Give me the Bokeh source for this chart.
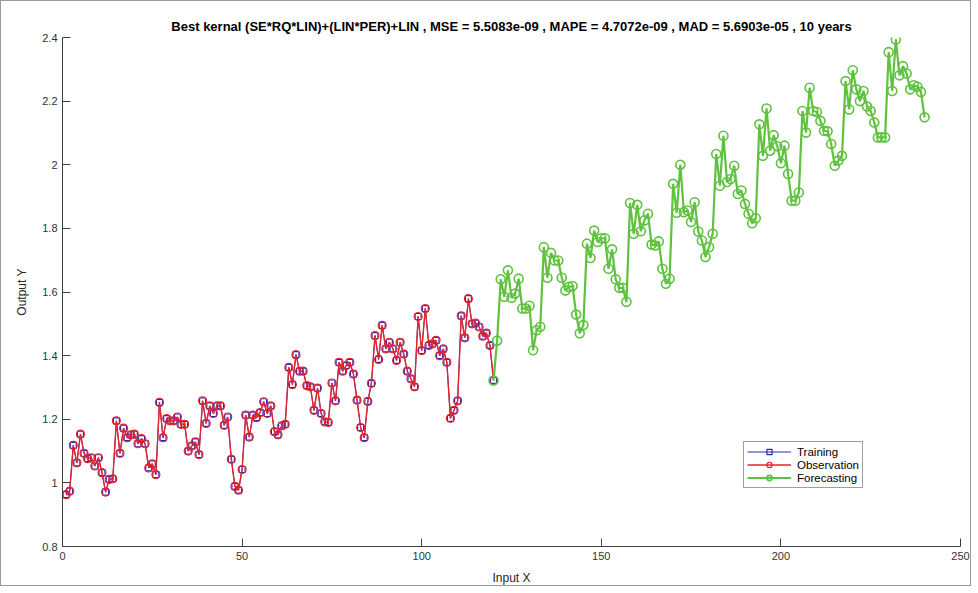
from bokeh.plotting import figure
from bokeh.models import Label, Legend, LegendItem, CustomJSTickFormatter, FixedTicker, Range1d
from bokeh.embed import file_html
from bokeh.resources import INLINE

# ---- data (values in raw units; axis shows them x 10^4) ----
obs_x = list(range(1, 121))
obs_y = [9630, 9740, 11180, 10630, 11530, 10930, 10760, 10790, 10530, 10790,
         10320, 9710, 10110, 10130, 11950, 10930, 11720, 11420, 11510, 11530,
         11230, 11390, 11230, 10470, 10600, 10260, 12530, 11420, 12020, 11950,
         11950, 12070, 11840, 11840, 11000, 11160, 11290, 10890, 12580, 11870,
         12420, 12180, 12420, 12420, 11810, 12070, 10740, 9890, 9770, 10420,
         12130, 11440, 12130, 12050, 12210, 12550, 12180, 12420, 11610, 11510,
         11790, 11840, 13630, 13090, 14030, 13510, 13510, 13060, 13020, 12280,
         12980, 12180, 11920, 11900, 13140, 12580, 13790, 13510, 13690, 13790,
         13420, 12600, 11740, 11420, 12560, 13130, 14630, 13880, 14950, 14210,
         14420, 14210, 13850, 14420, 14050, 13510, 13270, 13020, 15230, 14160,
         15480, 14320, 14370, 14480, 14000, 14210, 13790, 12030, 12280, 12580,
         15250, 14560, 15790, 15000, 15020, 14900, 14610, 14710, 14320, 13220]
train_x = obs_x
train_y = obs_y

fc_x = list(range(120, 241))
fc_y = [13220, 14470, 16400, 15850, 16680, 15820, 15950, 16420, 15480, 15480,
        15570, 14170, 14800, 14910, 17410, 16450, 17230, 16990, 16990, 16450,
        16050, 16160, 16190, 15290, 14700, 14960, 17520, 17070, 17930, 17570,
        17690, 17690, 16730, 17340, 16400, 16130, 16130, 15690, 18800, 17830,
        18740, 17910, 18250, 18460, 17490, 17460, 17590, 16730, 16260, 16420,
        19400, 18490, 20000, 18510, 18560, 18200, 18820, 17900, 17620, 17100,
        17410, 17830, 20340, 19340, 20910, 19460, 19550, 19970, 19080, 19190,
        18770, 18460, 18160, 18320, 21270, 20280, 21770, 20440, 20930, 20580,
        20050, 20600, 19710, 18870, 18870, 19130, 21690, 21010, 22420, 21690,
        21660, 21380, 21070, 21050, 20650, 19970, 20130, 20280, 22630, 21740,
        22970, 22370, 22000, 22320, 21830, 21690, 21330, 20860, 20860, 20860,
        23540, 22320, 23940, 22810, 23100, 22870, 22370, 22500, 22450, 22290,
        21490]

x_ticks = [0, 50, 100, 150, 200, 250]
y_ticks = [8000, 10000, 12000, 14000, 16000, 18000, 20000, 22000, 24000]
title_text = ("Best kernal (SE*RQ*LIN)+(LIN*PER)+LIN , MSE = 5.5083e-09 , "
              "MAPE = 4.7072e-09 , MAD = 5.6903e-05 , 10 years")
series_names = ["Training", "Observation", "Forecasting"]

FONT = "Liberation Sans"
AX = "#404040"
BLUE = "#2626c4"
RED = "#e3262e"
GREEN = "#5ec23e"

p = figure(width=971, height=586, output_backend="svg", toolbar_location=None,
           x_range=Range1d(0, 250), y_range=Range1d(8000, 24000),
           min_border_left=61, min_border_right=12, min_border_top=36,
           min_border_bottom=38, background_fill_color="white",
           border_fill_color="white")
p.styles = {"border": "1px solid #9a9a9a"}
p.outline_line_color = None
p.grid.visible = False

p.title.text = title_text
p.title.text_font = FONT
p.title.text_font_style = "bold"
p.title.text_font_size = "13px"
p.title.text_color = "black"
p.title.align = "center"
p.title.standoff = 7

for ax in (p.xaxis[0], p.yaxis[0]):
    ax.axis_line_color = AX
    ax.major_tick_line_color = AX
    ax.major_tick_in = 8
    ax.major_tick_out = 0
    ax.minor_tick_line_color = None
    ax.major_label_text_font = FONT
    ax.major_label_text_font_size = "11px"
    ax.major_label_text_color = "#333333"
    ax.axis_label_text_font = FONT
    ax.axis_label_text_font_size = "12px"
    ax.axis_label_text_font_style = "normal"
    ax.axis_label_text_color = "#262626"

p.xaxis.ticker = FixedTicker(ticks=x_ticks)
p.yaxis.ticker = FixedTicker(ticks=y_ticks)
p.yaxis.formatter = CustomJSTickFormatter(code="return String(Math.round(tick/1000)/10);")
p.xaxis.axis_label = "Input X"
p.yaxis.axis_label = "Output Y"
p.xaxis.major_label_standoff = 5
p.yaxis.major_label_standoff = 5
p.xaxis.axis_label_standoff = 8
p.yaxis.axis_label_standoff = 10

# training (blue line + squares)
tl = p.line(train_x, train_y, line_color=BLUE, line_width=1)
ts = p.scatter(train_x, train_y, marker="square", size=6, fill_color=None,
               line_color=BLUE, line_width=1.2)
# observation (red line + circles)
ol = p.line(obs_x, obs_y, line_color=RED, line_width=1.4)
oc = p.scatter(obs_x, obs_y, marker="circle", size=8, fill_color=None,
               line_color=RED, line_width=1.2)
# forecasting (green line + circles)
fl = p.line(fc_x, fc_y, line_color=GREEN, line_width=2.2)
fcm = p.scatter(fc_x, fc_y, marker="circle", size=9, fill_color=None,
                line_color=GREEN, line_width=1.6)

p.add_layout(Label(x=0, y=24000, x_offset=3, y_offset=5, text="×10⁴",
                   text_font=FONT, text_font_size="11px", text_color="#333333",
                   text_baseline="bottom"))

legend = Legend(items=[LegendItem(label=series_names[0], renderers=[tl, ts]),
                       LegendItem(label=series_names[1], renderers=[ol, oc]),
                       LegendItem(label=series_names[2], renderers=[fl, fcm])],
                location=(681, 58))
legend.label_text_font = FONT
legend.label_text_font_size = "11.5px"
legend.label_text_color = "black"
legend.glyph_width = 44
legend.glyph_height = 13
legend.label_height = 13
legend.label_standoff = 6
legend.spacing = 0
legend.padding = 3
legend.margin = 0
legend.border_line_color = "#404040"
legend.border_line_width = 1
legend.background_fill_color = "white"
legend.background_fill_alpha = 1
p.add_layout(legend)

open("out.html", "w").write(file_html(p, INLINE))
